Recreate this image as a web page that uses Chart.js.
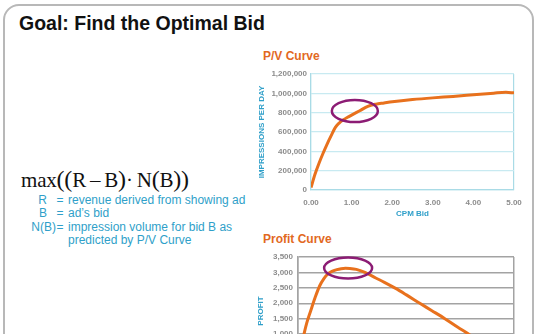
<!DOCTYPE html>
<html>
<head>
<meta charset="utf-8">
<script src="https://cdn.jsdelivr.net/npm/chart.js@4/dist/chart.umd.min.js"></script>
<style>
  html, body { margin: 0; padding: 0; background: #fff; }
  body { width: 540px; height: 334px; overflow: hidden; position: relative; font-family: "Liberation Sans", Arial, sans-serif; }
  .slide { position: absolute; left: 3px; top: 3.5px; width: 527px; height: 420px; border: 2.5px solid #b8b8b8; border-radius: 16px; }
  .title { position: absolute; left: 19px; top: 12px; font-size: 19.5px; font-weight: bold; color: #111; white-space: nowrap; }
  .formula { position: absolute; left: 21px; top: 166px; font-family: "Liberation Serif", "Times New Roman", serif; font-size: 21px; color: #111; white-space: nowrap; letter-spacing: -0.2px; }
  .formula .p { font-size: 24px; }
  .defs { position: absolute; left: 0; top: 194px; width: 260px; font-size: 12px; color: #2f9fc9; line-height: 13.4px; }
  .defs .row { position: relative; height: 13.4px; white-space: nowrap; }
  .defs .k { position: absolute; right: 204px; }
  .defs .eq { position: absolute; left: 56.5px; }
  .defs .v { position: absolute; left: 68px; }
  .ctitle { position: absolute; left: 263px; font-size: 12px; font-weight: bold; color: #e2691f; white-space: nowrap; }
  .chart { position: absolute; left: 250px; }
</style>
</head>
<body>
<div class="slide"></div>
<div class="title">Goal: Find the Optimal Bid</div>

<div class="formula">max<span class="p">((</span>R&thinsp;&ndash;&thinsp;B<span class="p">)</span>&middot;&thinsp;N<span class="p">(</span>B<span class="p">))</span></div>
<div class="defs">
  <div class="row"><span class="k" style="right:213px">R</span><span class="eq">=</span><span class="v">revenue derived from showing ad</span></div>
  <div class="row"><span class="k" style="right:213px">B</span><span class="eq">=</span><span class="v">ad’s bid</span></div>
  <div class="row"><span class="k">N(B)</span><span class="eq">=</span><span class="v">impression volume for bid B as</span></div>
  <div class="row"><span class="v">predicted by P/V Curve</span></div>
</div>

<div class="ctitle" style="top:49px">P/V Curve</div>
<div class="chart" style="top:64px"><canvas id="pv" width="280" height="160"></canvas></div>

<div class="ctitle" style="top:232px">Profit Curve</div>
<div class="chart" style="top:245px"><canvas id="profit" width="280" height="165"></canvas></div>

<script>
// P/V curve: CPM bid vs. impressions per day
const pvBids = [0, 0.1, 0.2, 0.3, 0.4, 0.5, 0.6, 0.7, 0.8, 0.9, 1.0, 1.2, 1.4, 1.6, 1.8, 2.0, 2.5, 3.0, 3.5, 4.0, 4.5, 4.8, 5.0];
const pvImpressions = [25000, 165000, 280000, 383000, 478000, 565000, 648000, 695000, 727000, 752000, 775000, 820000, 866000, 888000, 900000, 912000, 935000, 953000, 968000, 985000, 1002000, 1010000, 1005000];

// Profit curve: CPM bid vs. profit
const profitBids = [0, 0.1, 0.2, 0.3, 0.4, 0.5, 0.6, 0.7, 0.8, 0.9, 1.0, 1.1, 1.2, 1.35, 1.55, 1.8, 2.0, 2.25, 2.5, 2.82, 3.1, 3.4, 3.7, 3.93, 4.3, 4.65, 5.0];
const profitValues = [0, 750, 1350, 1780, 2200, 2560, 2800, 2960, 3040, 3090, 3120, 3135, 3130, 3100, 3000, 2820, 2680, 2490, 2280, 2000, 1760, 1500, 1220, 1020, 650, 320, 0];

// Axis ranges and tick steps
const bidTicks = [0, 5, 1];
const pvTicks = [0, 1200000, 200000];
const profitTicks = [0, 3500, 500];

// Highlighted optimum (bid, value) on each curve
const pvOptimum = [1.08, 817000];
const profitOptimum = [1.16, 3143];

const ORANGE = '#e8711d';
const TEAL = '#2f9fc9';
const TICK = '#8c8c8c';
const fontBase = { family: '"Liberation Sans", Arial, sans-serif' };

const ringPlugin = {
  id: 'ring',
  afterDatasetsDraw(chart, args, opts) {
    const { ctx, scales } = chart;
    const cx = scales.x.getPixelForValue(opts.at[0]);
    const cy = scales.y.getPixelForValue(opts.at[1]);
    ctx.save();
    ctx.beginPath();
    ctx.ellipse(cx, cy, opts.rx, opts.ry, 0, 0, Math.PI * 2);
    ctx.strokeStyle = '#8c1c74';
    ctx.lineWidth = 2.5;
    ctx.stroke();
    ctx.restore();
  }
};

function makeChart(id, xs, ys, yRange, cfg) {
  const points = xs.map((x, i) => ({ x, y: ys[i] }));
  return new Chart(document.getElementById(id), {
    type: 'line',
    data: { datasets: [{ data: points, borderColor: ORANGE, borderWidth: 3, pointRadius: 0, cubicInterpolationMode: 'monotone', fill: false }] },
    options: {
      responsive: false,
      animation: false,
      layout: { padding: { top: cfg.padTop, right: 16, left: 0, bottom: 0 } },
      plugins: { legend: { display: false }, tooltip: { enabled: false }, ring: cfg.ring },
      scales: {
        x: {
          type: 'linear', min: bidTicks[0], max: bidTicks[1],
          ticks: { stepSize: bidTicks[2], padding: 8, color: TICK, font: { ...fontBase, size: 8, weight: 'bold' }, callback: v => v.toFixed(2) },
          grid: { drawTicks: false, lineWidth: cfg.gridWidth, color: c => (c.index === 0 || c.tick.value === bidTicks[1]) ? cfg.borderColor : 'rgba(0,0,0,0)' },
          border: { display: true, color: cfg.borderColor, width: cfg.gridWidth },
          title: { display: true, text: 'CPM Bid', color: TEAL, font: { ...fontBase, size: 8, weight: 'bold' }, padding: { top: 0, bottom: 5 } },
          afterFit: s => { s.height = cfg.xHeight; }
        },
        y: {
          min: yRange[0], max: yRange[1],
          ticks: { stepSize: yRange[2], padding: cfg.yPad, color: TICK, font: { ...fontBase, size: 8, weight: 'bold' }, callback: v => v.toLocaleString('en-US') },
          grid: { drawTicks: false, color: cfg.gridColor, lineWidth: cfg.gridWidth },
          border: { display: true, color: cfg.borderColor, width: cfg.gridWidth },
          title: { display: true, text: cfg.yTitle, color: TEAL, font: { ...fontBase, size: 8, weight: 'bold' }, padding: { top: cfg.yTitlePad, bottom: 0 } },
          afterFit: s => { s.width = cfg.yWidth; }
        }
      }
    },
    plugins: [ringPlugin]
  });
}

makeChart('pv', pvBids, pvImpressions, pvTicks, {
  padTop: 10, xHeight: 34, yWidth: 61, yPad: 4, yTitlePad: 7,
  yTitle: 'IMPRESSIONS PER DAY',
  gridColor: '#c8eaf1', borderColor: '#a9dbe6', gridWidth: 1.2,
  ring: { at: pvOptimum, rx: 23, ry: 11 }
});

makeChart('profit', profitBids, profitValues, profitTicks, {
  padTop: 12, xHeight: 45, yWidth: 48, yPad: 5, yTitlePad: 6,
  yTitle: 'PROFIT',
  gridColor: '#a3a3a3', borderColor: '#a3a3a3', gridWidth: 1.5,
  ring: { at: profitOptimum, rx: 24, ry: 10.5 }
});
</script>
</body>
</html>
